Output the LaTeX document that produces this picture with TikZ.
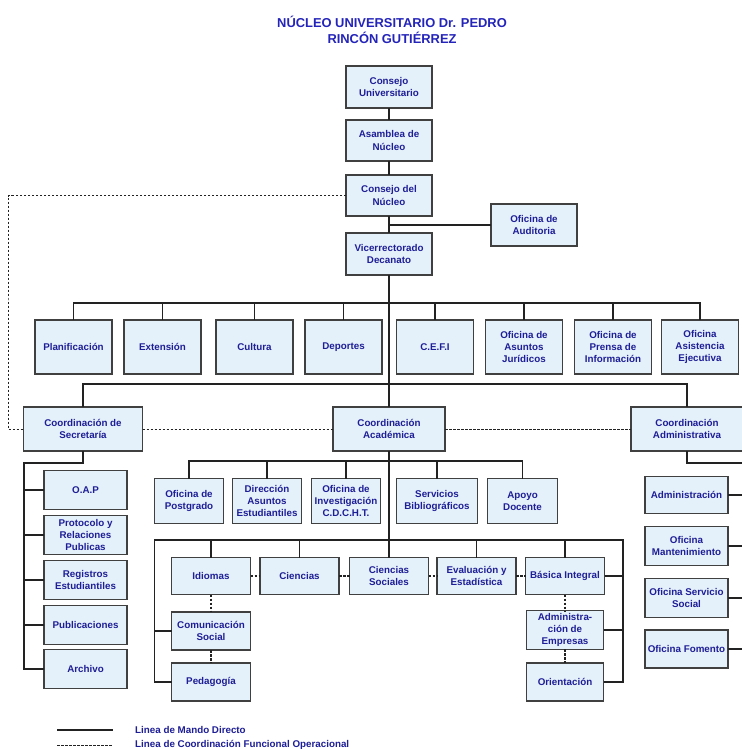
\documentclass[tikz,border=0pt]{standalone}
\usepackage{fontspec}
\setmainfont{Liberation Sans}
\definecolor{boxfill}{RGB}{229,241,250}
\definecolor{boxtext}{RGB}{30,30,150}
\definecolor{titletext}{RGB}{36,36,186}
\definecolor{linegray}{RGB}{34,34,34}
\definecolor{boxline}{RGB}{64,64,64}
\begin{document}
\begin{tikzpicture}[x=1pt, y=-1pt, font=\fontsize{9.8}{12.2}\selectfont\bfseries,
    caja/.style={draw=boxline, line width=1.3pt, fill=boxfill, text=boxtext, align=center, inner sep=1pt, outer sep=0pt},
    mando/.style={draw=linegray, line width=1.8pt, line join=miter},
    coordlinea/.style={draw=linegray, line width=1pt, dash pattern=on 2.5pt off 1.5pt},
    enlace/.style={draw=linegray, line width=1.8pt, dash pattern=on 2.5pt off 1.5pt}]
        \path[use as bounding box, fill=white] (0,0) rectangle (741,749);
        \node[text=titletext, font=\fontsize{12.9}{16}\selectfont\bfseries, align=center] (titulo) at (392,30) {NÚCLEO UNIVERSITARIO Dr. PEDRO\\RINCÓN GUTIÉRREZ};

        % direccion
        \node[caja, minimum width=86pt, minimum height=42pt] (cu) at (389,87) {Consejo\\Universitario};
        \node[caja, minimum width=86pt, minimum height=41pt] (an) at (389,140.5) {Asamblea de\\Núcleo};
        \node[caja, minimum width=86pt, minimum height=41pt] (cn) at (389,195.5) {Consejo del\\Núcleo};
        \node[caja, minimum width=86pt, minimum height=42pt] (vd) at (389,254) {Vicerrectorado\\Decanato};
        \node[caja, minimum width=86pt, minimum height=42pt] (au) at (534,225) {Oficina de\\Auditoria};

        % oficinas
        \node[caja, minimum width=77pt, minimum height=54pt] (plan) at (73.5,347) {Planificación};
        \node[caja, minimum width=77pt, minimum height=54pt] (ext) at (162.5,347) {Extensión};
        \node[caja, minimum width=77pt, minimum height=54pt] (cul) at (254.5,347) {Cultura};
        \node[caja, minimum width=77pt, minimum height=54pt] (dep) at (343.5,347) {Deportes};
        \node[caja, minimum width=77pt, minimum height=54pt] (cefi) at (435,347) {C.E.F.I};
        \node[caja, minimum width=77pt, minimum height=54pt] (jur) at (524,347) {Oficina de\\Asuntos\\Jurídicos};
        \node[caja, minimum width=77pt, minimum height=54pt] (prensa) at (613,347) {Oficina de\\Prensa de\\Información};
        \node[caja, minimum width=77pt, minimum height=54pt] (asis) at (700,347) {Oficina\\Asistencia\\Ejecutiva};

        % coordinaciones
        \node[caja, minimum width=119pt, minimum height=44pt] (sec) at (83,429) {Coordinación de\\Secretaría};
        \node[caja, minimum width=112pt, minimum height=44pt] (aca) at (389,429) {Coordinación\\Académica};
        \node[caja, minimum width=112pt, minimum height=44pt] (adm) at (687,429) {Coordinación\\Administrativa};

        % secretaria
        \node[caja, minimum width=83pt, minimum height=38.5pt] (oap) at (85.5,490) {O.A.P};
        \node[caja, minimum width=83pt, minimum height=38.5pt] (prot) at (85.5,535) {Protocolo y\\Relaciones\\Publicas};
        \node[caja, minimum width=83pt, minimum height=38.5pt] (reg) at (85.5,580) {Registros\\Estudiantiles};
        \node[caja, minimum width=83pt, minimum height=38.5pt] (pub) at (85.5,625) {Publicaciones};
        \node[caja, minimum width=83pt, minimum height=38.5pt] (arch) at (85.5,669) {Archivo};

        % academica
        \node[caja, minimum width=69pt, minimum height=45pt] (post) at (189,501) {Oficina de\\Postgrado};
        \node[caja, minimum width=69pt, minimum height=45pt] (dir) at (267,501) {Dirección\\Asuntos\\Estudiantiles};
        \node[caja, minimum width=69pt, minimum height=45pt] (inv) at (346,501) {Oficina de\\Investigación\\C.D.C.H.T.};
        \node[caja, minimum width=81pt, minimum height=45pt] (serv) at (437,501) {Servicios\\Bibliográficos};
        \node[caja, minimum width=70pt, minimum height=45pt] (apoyo) at (522.5,501) {Apoyo\\Docente};

        \node[caja, minimum width=79pt, minimum height=37pt] (idi) at (211,576) {Idiomas};
        \node[caja, minimum width=79pt, minimum height=37pt] (cie) at (299.5,576) {Ciencias};
        \node[caja, minimum width=79pt, minimum height=37pt] (cs) at (389,576) {Ciencias\\Sociales};
        \node[caja, minimum width=79pt, minimum height=37pt] (eva) at (476.5,576) {Evaluación y\\Estadística};
        \node[caja, minimum width=79pt, minimum height=37pt] (bas) at (565,576) {Básica Integral};
        \node[caja, minimum width=79pt, minimum height=38pt] (com) at (211,631) {Comunicación\\Social};
        \node[caja, minimum width=79pt, minimum height=38pt] (ped) at (211,682) {Pedagogía};
        \node[caja, minimum width=77pt, minimum height=38.5pt] (ae) at (565,630) {Administra-\\ción de\\Empresas};
        \node[caja, minimum width=77pt, minimum height=38pt] (ori) at (565,682) {Orientación};

        % administrativa
        \node[caja, minimum width=83pt, minimum height=37pt] (admon) at (686.5,495) {Administración};
        \node[caja, minimum width=83pt, minimum height=39pt] (mant) at (686.5,546) {Oficina\\Mantenimiento};
        \node[caja, minimum width=83pt, minimum height=39pt] (soc) at (686.5,598) {Oficina Servicio\\Social};
        \node[caja, minimum width=83pt, minimum height=38pt] (fom) at (686.5,649) {Oficina Fomento};

        \coordinate (b1) at (389,303);
        \coordinate (b2) at (389,384);
        \coordinate (b3) at (389,461);
        \coordinate (b4l) at (154.5,540);
        \coordinate (b4r) at (623,540);
        \coordinate (s1) at (24,463);
        \coordinate (a1) at (745,463);
        \coordinate (d1) at (8,300);

        % linea de mando
        \draw[mando] (cu) -- (an);
        \draw[mando] (an) -- (cn);
        \draw[mando] (cn) -- (vd);
        \draw[mando] (cn.south |- au.west) -- (au.west);
        \draw[mando] (vd.south) -- (aca.north);
        \draw[mando] (plan.north) |- (b1) -| (asis.north);
        \draw[mando] (ext.north) -- (ext.north |- b1);
        \draw[mando] (cul.north) -- (cul.north |- b1);
        \draw[mando] (dep.north) -- (dep.north |- b1);
        \draw[mando] (cefi.north) -- (cefi.north |- b1);
        \draw[mando] (jur.north) -- (jur.north |- b1);
        \draw[mando] (prensa.north) -- (prensa.north |- b1);
        \draw[mando] (sec.north) |- (b2) -| (adm.north);

        \draw[mando] (sec.south) |- (s1) |- (arch.west);
        \draw[mando] (oap.west) -- (oap.west -| s1);
        \draw[mando] (prot.west) -- (prot.west -| s1);
        \draw[mando] (reg.west) -- (reg.west -| s1);
        \draw[mando] (pub.west) -- (pub.west -| s1);

        \draw[mando] (aca.south) -- (cs.north);
        \draw[mando] (post.north) |- (b3) -| (apoyo.north);
        \draw[mando] (dir.north) -- (dir.north |- b3);
        \draw[mando] (inv.north) -- (inv.north |- b3);
        \draw[mando] (serv.north) -- (serv.north |- b3);
        \draw[mando] (ped.west) -| (b4l) -- (b4r) |- (ori.east);
        \draw[mando] (com.west) -- (com.west -| b4l);
        \draw[mando] (bas.east) -- (bas.east -| b4r);
        \draw[mando] (ae.east) -- (ae.east -| b4r);
        \draw[mando] (idi.north) -- (idi.north |- b4l);
        \draw[mando] (cie.north) -- (cie.north |- b4l);
        \draw[mando] (eva.north) -- (eva.north |- b4l);
        \draw[mando] (bas.north) -- (bas.north |- b4l);

        \draw[mando] (adm.south) |- (a1) |- (fom.east);
        \draw[mando] (admon.east) -- (admon.east -| a1);
        \draw[mando] (mant.east) -- (mant.east -| a1);
        \draw[mando] (soc.east) -- (soc.east -| a1);

        % coordinacion funcional
        \draw[coordlinea] (cn.west) -| (d1) |- (sec.west);
        \draw[coordlinea] (sec.east) -- (aca.west);
        \draw[coordlinea] (aca.east) -- (adm.west);
        \draw[enlace] (idi) -- (cie);
        \draw[enlace] (cie) -- (cs);
        \draw[enlace] (cs) -- (eva);
        \draw[enlace] (eva) -- (bas);
        \draw[enlace] (idi) -- (com);
        \draw[enlace] (com) -- (ped);
        \draw[enlace] (bas) -- (ae);
        \draw[enlace] (ae) -- (ori);

        % leyenda
        \coordinate (l1) at (57,730);
        \coordinate (l2) at (113,730);
        \coordinate (l3) at (57,745);
        \coordinate (l4) at (113,745);
        \draw[mando] (l1) -- (l2);
        \draw[coordlinea] (l3) -- (l4);
        \node[text=boxtext, anchor=west, inner sep=0pt] (ley1) at (135,730) {Linea de Mando Directo};
        \node[text=boxtext, anchor=west, inner sep=0pt] (ley2) at (135,745) {Linea de Coordinación Funcional Operacional};
    \end{tikzpicture}
\end{document}
